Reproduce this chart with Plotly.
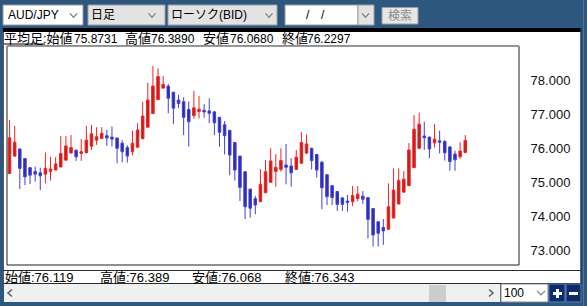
import plotly.graph_objects as go

# ---------------- data (Heikin-Ashi candles, AUD/JPY daily) ----------------
opens = [75.26, 75.77, 75.98, 75.70, 75.43, 75.32, 75.28, 75.24, 75.32, 75.36,
         75.45, 75.65, 75.86, 75.94, 75.85, 75.87, 76.06, 76.24, 76.29, 76.37,
         76.33, 76.30, 76.15, 76.02, 75.90, 76.03, 76.28, 76.62, 77.02, 77.43,
         77.77, 77.83, 77.65, 77.42, 77.37, 77.14, 76.96, 77.08, 77.12, 77.10,
         77.07, 76.91, 76.69, 76.53, 76.17, 75.77, 75.31, 74.80, 74.52, 74.43,
         74.69, 75.00, 75.32, 75.38, 75.51, 75.48, 75.38, 75.56, 75.86, 76.00,
         75.82, 75.59, 75.22, 74.90, 74.73, 74.54, 74.45, 74.43, 74.52, 74.59,
         74.55, 74.23, 73.84, 73.67, 73.62, 73.95, 74.36, 74.71, 74.90, 75.43,
         76.00, 76.36, 76.33, 76.16, 76.22, 76.20, 76.04, 75.83, 75.75, 75.8731]
highs = [76.83, 76.66, 75.99, 75.71, 75.45, 75.46, 75.43, 75.88, 75.75, 75.74,
         76.36, 76.36, 76.39, 75.97, 76.27, 76.66, 76.69, 76.62, 76.62, 76.54,
         76.64, 76.32, 76.24, 76.09, 76.52, 76.74, 77.37, 77.93, 78.42, 78.35,
         78.13, 77.89, 77.66, 77.57, 77.50, 77.37, 77.69, 77.54, 77.30, 77.47,
         77.10, 76.92, 76.80, 76.54, 76.18, 75.78, 75.33, 74.81, 74.60, 75.39,
         75.66, 76.00, 75.83, 76.00, 76.13, 75.71, 75.95, 76.48, 76.41, 76.02,
         75.83, 75.63, 75.24, 74.92, 74.74, 74.57, 74.63, 74.89, 74.89, 74.74,
         74.56, 74.24, 73.85, 73.92, 74.97, 75.41, 75.41, 75.33, 76.15, 76.98,
         77.05, 76.78, 76.34, 76.71, 76.52, 76.24, 76.07, 75.93, 76.18, 76.389]
lows = [75.26, 75.75, 74.80, 74.92, 74.95, 75.02, 74.77, 74.97, 75.05, 75.36,
        75.45, 75.65, 75.86, 75.63, 75.63, 75.85, 75.95, 76.10, 76.29, 76.07,
        76.05, 75.56, 75.59, 75.58, 75.80, 76.03, 76.28, 76.62, 77.02, 77.43,
        77.76, 77.03, 76.71, 77.18, 76.39, 76.05, 76.87, 76.88, 76.90, 76.74,
        76.39, 76.05, 75.82, 75.21, 75.05, 74.45, 73.92, 73.96, 74.06, 74.43,
        74.69, 75.00, 74.87, 75.31, 74.94, 74.87, 75.36, 75.56, 75.83, 75.38,
        75.14, 74.21, 74.33, 74.33, 74.16, 74.16, 74.14, 74.30, 74.45, 74.36,
        73.35, 73.11, 73.11, 73.16, 73.60, 73.94, 74.36, 74.71, 74.90, 75.43,
        75.97, 75.95, 75.71, 76.02, 75.85, 75.64, 75.34, 75.34, 75.69, 75.8731]
closes = [76.31, 76.18, 75.41, 75.16, 75.21, 75.24, 75.19, 75.41, 75.39, 75.54,
          75.85, 76.07, 76.02, 75.75, 75.90, 76.24, 76.43, 76.34, 76.44, 76.30,
          76.27, 76.00, 75.90, 75.77, 76.15, 76.54, 76.95, 77.42, 77.83, 78.11,
          77.88, 77.47, 77.18, 77.32, 76.91, 76.78, 77.19, 77.15, 77.07, 77.03,
          76.75, 76.47, 76.37, 75.80, 75.36, 74.85, 74.28, 74.24, 74.33, 74.94,
          75.31, 75.63, 75.44, 75.64, 75.44, 75.28, 75.74, 76.17, 76.13, 75.64,
          75.36, 74.84, 74.58, 74.55, 74.35, 74.35, 74.41, 74.61, 74.65, 74.50,
          73.91, 73.45, 73.50, 73.57, 74.28, 74.77, 75.05, 75.09, 75.95, 76.56,
          76.71, 76.31, 75.98, 76.27, 76.18, 75.87, 75.61, 75.66, 75.92, 76.2297]
slots = 100
y_ticks = [73, 74, 75, 76, 77, 78]
y_tick_labels = ["73.000", "74.000", "75.000", "76.000", "77.000", "78.000"]

header_items = [("平均足:始値", "75.8731"), ("高値", "76.3890"), ("安値", "76.0680"), ("終値", "76.2297")]
footer_items = ["始値:76.119", "高値:76.389", "安値:76.068", "終値:76.343"]
toolbar_texts = ["AUD/JPY", "日足", "ローソク(BID)", "検索", "100"]

# ---------------- geometry ----------------
W, H = 587, 306
PL, PR, PT, PB = 7, 519, 46, 265
y_top = 76 + (148.3 - PT) / 34.0
y_bot = 76 - (PB - 148.3) / 34.0


def fx(px):
    return (px - PL) / (PR - PL)


def fy(py):
    return (PB - py) / (PB - PT)


shapes = []


def rect(x0, y0, x1, y1, fill=None, line=None, lw=1, layer="below"):
    shapes.append(dict(type="rect", xref="paper", yref="paper",
                       x0=fx(x0), x1=fx(x1), y0=fy(y1), y1=fy(y0),
                       fillcolor=fill if fill else "rgba(0,0,0,0)",
                       line=dict(color=line if line else "rgba(0,0,0,0)", width=lw if line else 0),
                       layer=layer))


def hline(x0, x1, y, color, lw=1, layer="above"):
    shapes.append(dict(type="line", xref="paper", yref="paper",
                       x0=fx(x0), x1=fx(x1), y0=fy(y), y1=fy(y),
                       line=dict(color=color, width=lw), layer=layer))


def vline(x, y0, y1, color, lw=1, layer="above"):
    shapes.append(dict(type="line", xref="paper", yref="paper",
                       x0=fx(x), x1=fx(x), y0=fy(y0), y1=fy(y1),
                       line=dict(color=color, width=lw), layer=layer))


def chevron(cx, cy, w=7, h=4, color="#7a7a7a", direction="down", lw=1.2):
    if direction == "down":
        pts = [(cx - w / 2, cy - h / 2), (cx, cy + h / 2), (cx + w / 2, cy - h / 2)]
    elif direction == "left":
        pts = [(cx + h / 2, cy - w / 2), (cx - h / 2, cy), (cx + h / 2, cy + w / 2)]
    else:
        pts = [(cx - h / 2, cy - w / 2), (cx + h / 2, cy), (cx - h / 2, cy + w / 2)]
    path = "M " + " L ".join(f"{fx(a):.5f},{fy(b):.5f}" for a, b in pts)
    shapes.append(dict(type="path", xref="paper", yref="paper", path=path,
                       line=dict(color=color, width=lw), layer="above"))


annotations = []
CJK = "Liberation Sans, Noto Sans CJK JP"


def text(t, x, y, size=13, color="#000000", anchor="left", family=CJK):
    annotations.append(dict(text=t, xref="paper", yref="paper", x=fx(x), y=fy(y),
                            xanchor=anchor, yanchor="middle", showarrow=False,
                            borderpad=0, borderwidth=0,
                            font=dict(family=family, size=size, color=color)))


# ---------------- window chrome ----------------
BLUE = "#2D577F"
# white main panel
rect(3, 32, 581, 283, fill="#FFFFFF")
# thick black bar on top of panel
rect(3, 28, 581, 32, fill="#000000")
# panel left/right edges
vline(3.5, 32, 283, "#5a5a5a")
vline(581, 28, 302, "#1d3c5c", lw=1.5)
vline(583.5, 0, 306, "#4a76a0", lw=1)
# separators
hline(3, 581, 270.5, "#2a2a2a")
hline(3, 581, 283.5, "#2a2a2a")
# scrollbar
rect(4, 284, 500, 302, fill="#F0F0F0")
rect(429, 285, 446, 302, fill="#CDCDCD")
chevron(10, 293, w=7, h=4, color="#606060", direction="left", lw=1.5)
chevron(491, 293, w=7, h=4, color="#606060", direction="right", lw=1.5)
# display-count dropdown
rect(501, 284, 548, 302, fill="#FFFFFF", line="#8a8a8a", layer="above")
chevron(541, 293, w=8, h=4, color="#8a8a8a")
# +/- buttons
rect(549, 284, 565, 302, fill="#0D2C6C", line="#5d7fb0", layer="above")
rect(566, 284, 581, 302, fill="#0D2C6C", line="#5d7fb0", layer="above")
rect(553, 292, 562, 295, fill="#FFFFFF", layer="above")
rect(556, 289, 559, 298, fill="#FFFFFF", layer="above")
rect(569, 292, 578, 295, fill="#FFFFFF", layer="above")

# toolbar widgets
rect(3, 5, 83, 25, fill="#FFFFFF", line="#9a9a9a")
chevron(73.5, 15.3)
rect(88, 5, 165, 25, fill="#E3E3E3", line="#A0A0A0")
chevron(152, 15.3)
rect(168, 5, 277, 25, fill="#E3E3E3", line="#A0A0A0")
chevron(269, 15.3)
rect(285, 5, 358, 25, fill="#FFFFFF", line="#9a9a9a")
rect(358, 5, 374, 25, fill="#E3E3E3", line="#A0A0A0")
chevron(365.5, 15.3)
rect(382, 7.5, 418, 24, fill="#E6E6E6", line="#9c9c9c")

# plot frame
rect(PL, PT, PR, PB, line="#1e1e1e", lw=1, layer="above")
hline(PL, PR, PT + 0.5, "#9a9a9a")
# underline under 平均足
hline(4, 45, 44, "#000000")

# ---------------- texts ----------------
text(toolbar_texts[0], 7.5, 15, size=12)
text(toolbar_texts[1], 91, 15, size=12)
text(toolbar_texts[2], 171, 15, size=12)
text("/", 307.5, 15, size=12, anchor="center")
text("/", 322.5, 15, size=12, anchor="center")
text(toolbar_texts[3], 400, 15.5, size=12, color="#8C8C8C", anchor="center")
text(toolbar_texts[4], 504, 293, size=12)

hx = [(3.5, 73.5), (124.5, 150.5), (202.5, 229.5), (281.5, 306.5)]
for (lab, val), (xl, xv) in zip(header_items, hx):
    text(lab, xl, 38.5, size=13)
    text(val, xv, 38.5, size=12)

for t, x in zip(footer_items, [4.5, 99.5, 191.5, 285]):
    text(t, x, 277, size=13)

# ---------------- chart ----------------
idx = list(range(len(opens)))
fig = go.Figure(go.Candlestick(
    x=idx, open=opens, high=highs, low=lows, close=closes,
    increasing=dict(line=dict(color="#EE2424", width=1), fillcolor="#C81A1A"),
    decreasing=dict(line=dict(color="#4040DA", width=1), fillcolor="#2B2BA8"),
    whiskerwidth=0, hoverinfo="skip", showlegend=False,
))

fig.update_layout(
    width=W, height=H, autosize=False,
    margin=dict(l=PL, r=W - PR, t=PT, b=H - PB, pad=0),
    paper_bgcolor=BLUE, plot_bgcolor="#FFFFFF",
    shapes=shapes, annotations=annotations,
    showlegend=False,
    xaxis=dict(range=[-0.5, slots - 0.5], showgrid=False, zeroline=False,
               showticklabels=False, ticks="", showline=False,
               rangeslider=dict(visible=False), fixedrange=True),
    yaxis=dict(range=[y_bot, y_top], side="right", showgrid=False, zeroline=False,
               tickvals=y_ticks, ticktext=y_tick_labels,
               ticks="outside", ticklen=8, tickcolor="rgba(0,0,0,0)",
               tickfont=dict(family="Liberation Sans, Arial", size=13, color="#111111"),
               showline=False, fixedrange=True),
)

fig.write_html("out.html", config={"displayModeBar": False})
